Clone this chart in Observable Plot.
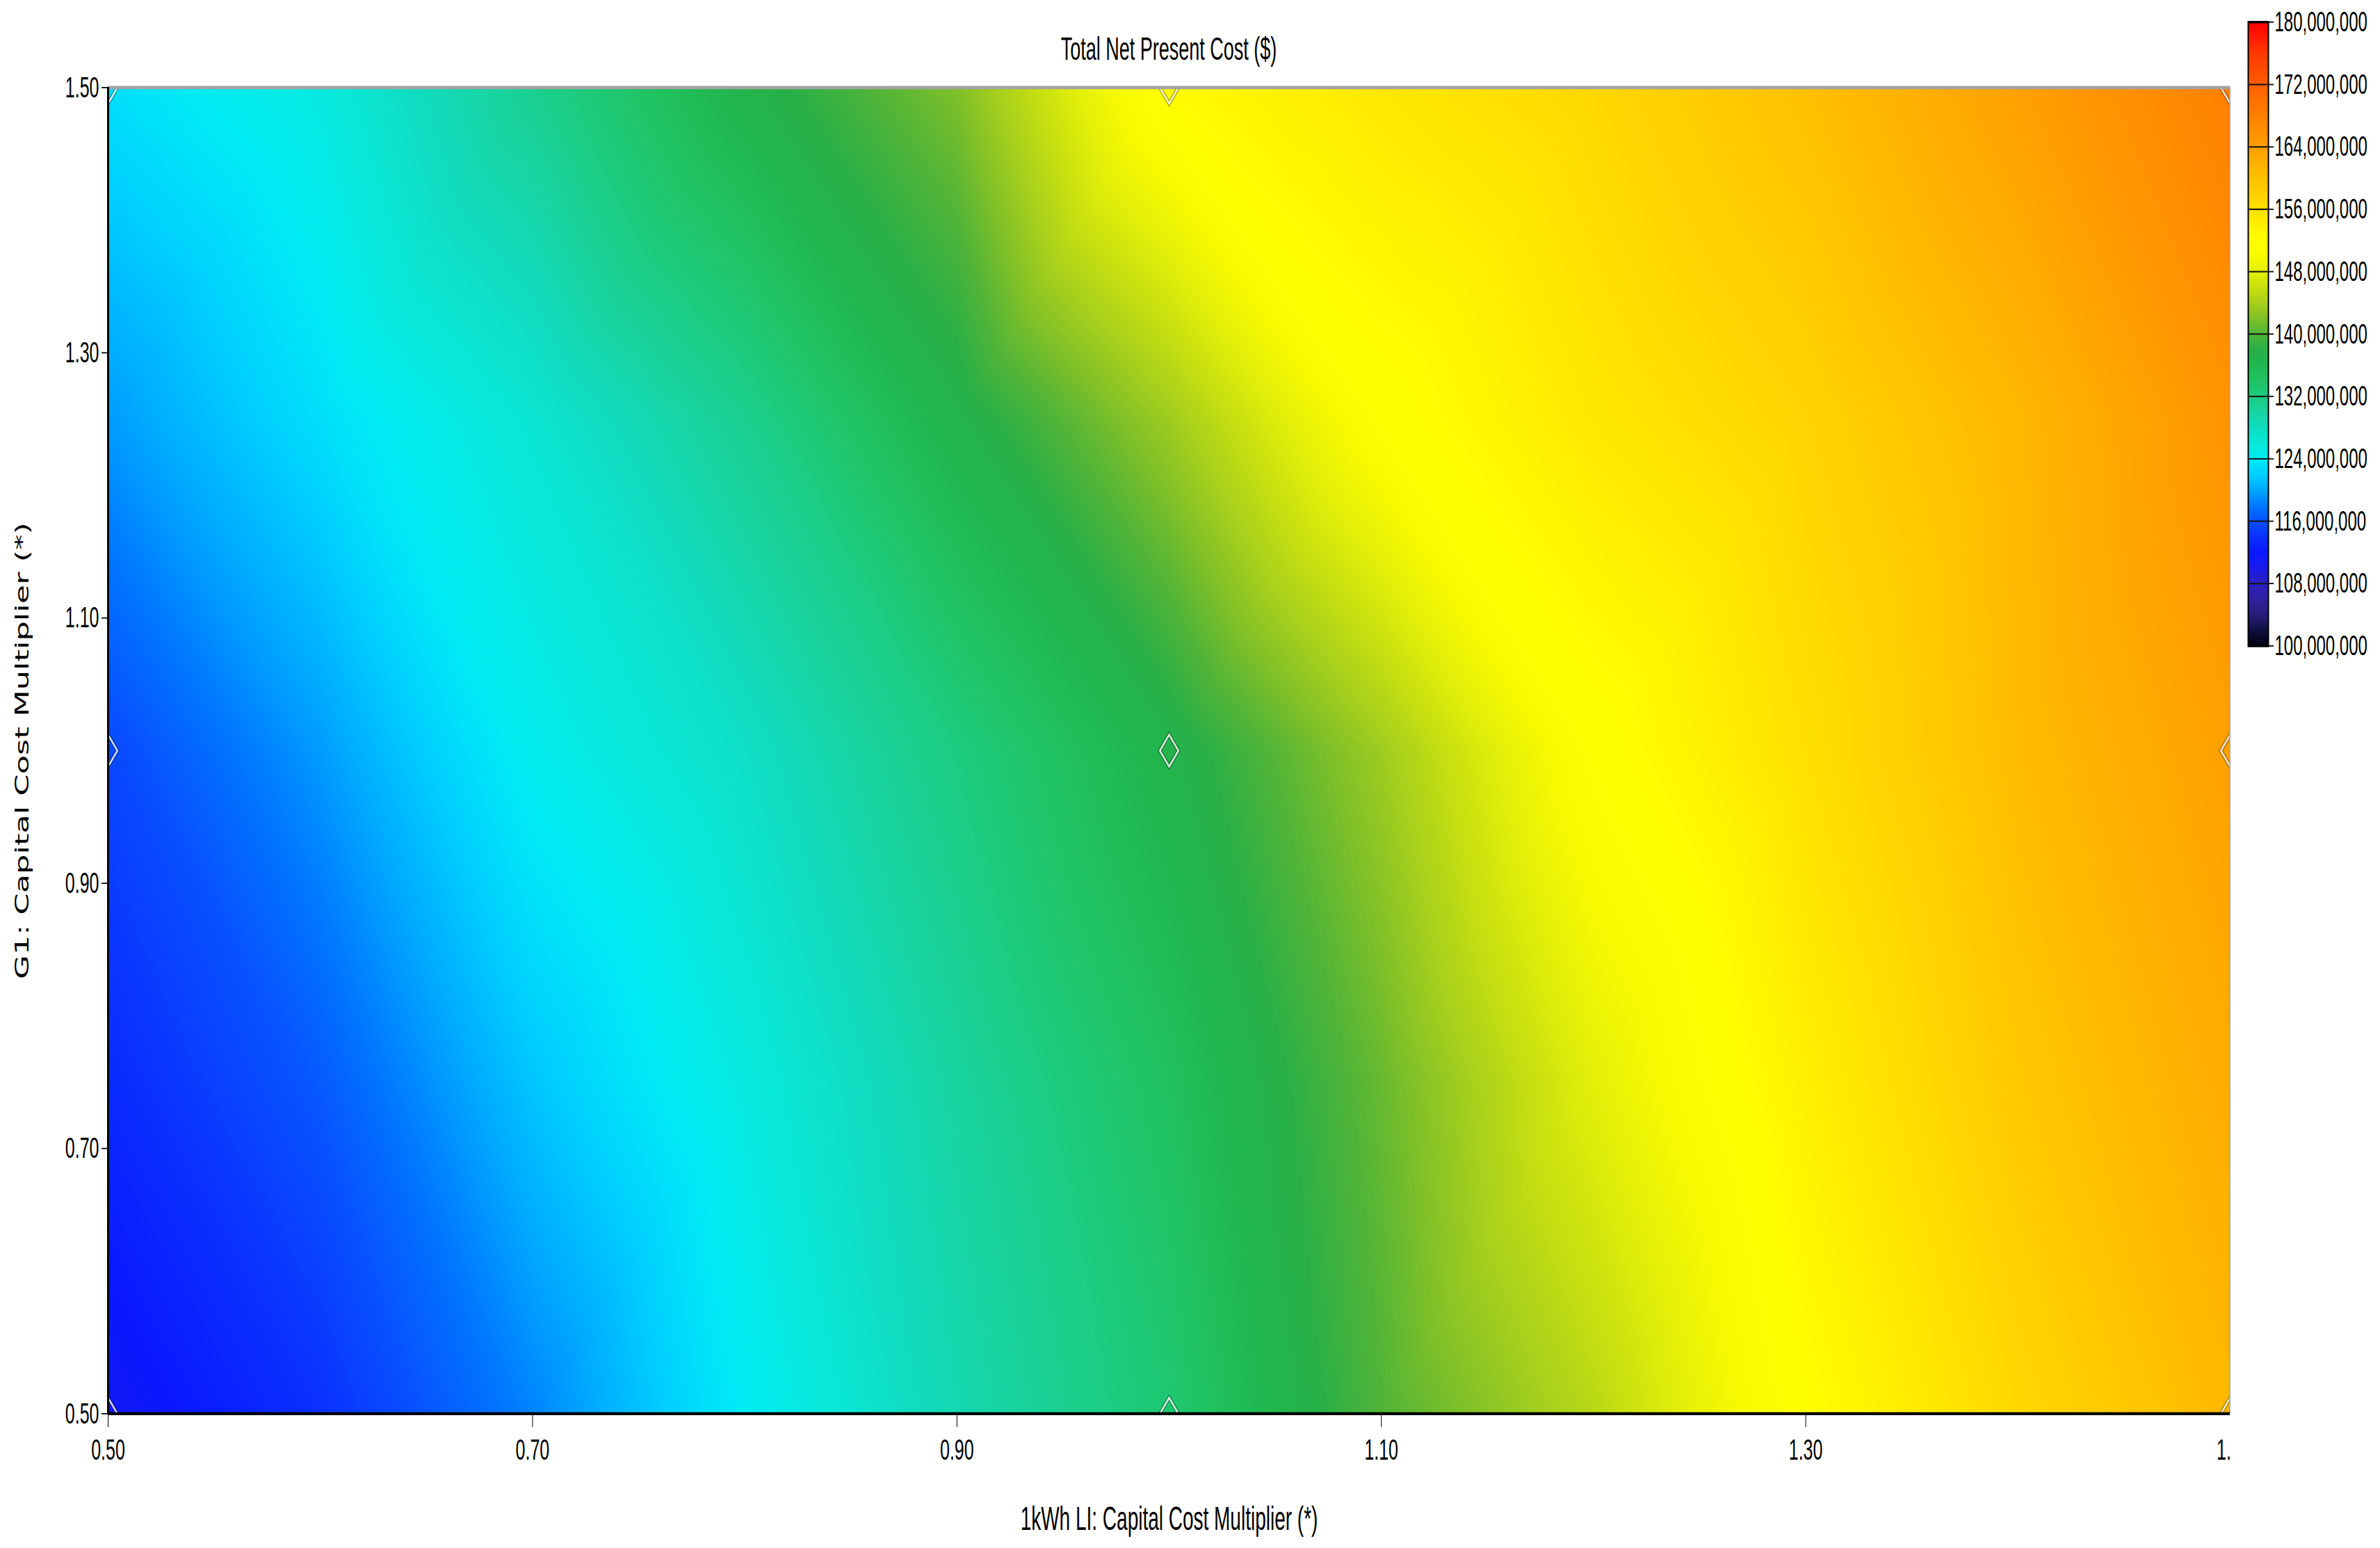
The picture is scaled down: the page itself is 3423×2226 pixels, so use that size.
<!DOCTYPE html>
<html><head><meta charset="utf-8">
<script src="https://cdn.jsdelivr.net/npm/d3@7"></script>
<script src="https://cdn.jsdelivr.net/npm/@observablehq/plot@0.6"></script>
<style>
html{margin:0;padding:0;background:#fff;}
body{margin:0;padding:0;background:#fff;width:3423px;height:2226px;overflow:hidden;}
#stage{position:relative;width:3423px;height:1294px;transform:scaleY(1.7202);transform-origin:0 0;}
#title{position:absolute;left:155px;width:3052px;top:28px;text-align:center;font:27px/27px "Liberation Sans",sans-serif;color:#000;white-space:nowrap;}
#main{position:absolute;left:0;top:0;}
#legend{position:absolute;left:3210px;top:0;}
#main g[aria-label="x-axis label"]{font-size:28px;}
#main g[aria-label="y-axis label"]{font-family:"DejaVu Sans",sans-serif;font-size:26px;}
</style></head>
<body>
<div id="stage"><div id="main"></div><div id="legend"></div><div id="title">Total Net Present Cost ($)</div></div>
<script>
// ---- data (Total Net Present Cost, millions of $) ----
const xValues = [0.5, 0.6, 0.7, 0.8, 0.9, 1.0, 1.1, 1.2, 1.3, 1.4, 1.5];   // 1kWh LI capital cost multiplier
const yValues = [0.5, 0.75, 1.0, 1.25, 1.5];                                 // G1 capital cost multiplier
const npcAtY050 = [111, 114, 118.5, 124, 129, 133, 140, 145, 152, 157, 161];
const npcAtY075 = [113.5, 116.5, 121.5, 125.5, 130, 134.5, 141, 148, 154, 159, 162.5];
const npcAtY100 = [115.5, 119.5, 124.5, 127.5, 132, 137, 143.5, 151.5, 156, 160.5, 164];
const npcAtY125 = [119.5, 123, 126.5, 131, 137, 143.5, 151.5, 155, 157.5, 161, 165.5];
const npcAtY150 = [123, 125.5, 131, 137, 142, 152.5, 155, 157, 160, 164, 168];
const npcRows = [npcAtY050, npcAtY075, npcAtY100, npcAtY125, npcAtY150];

const caseX = [0.5, 1.0, 1.5];   // simulated sensitivity cases
const caseY = [0.5, 1.0, 1.5];

const xTicks = [0.5, 0.7, 0.9, 1.1, 1.3];
const xTickCut = [1.5];          // right-most label, shown truncated as "1." in the source
const yTicks = [0.5, 0.7, 0.9, 1.1, 1.3, 1.5];
const legendTicks = [100, 108, 116, 124, 132, 140, 148, 156, 164, 172, 180];

const colorStops = [100,102,104,106,108,110,112,114,116,118,120,122,124,126,128,130,132,134,136,138,140,142,144,146,148,150,152,154,156,158,160,162,164,166,168,170,172,176,180];
const colorRamp  = ["#000010","#101040","#281e78","#3020a0","#2a20c0","#1a1ae8","#0a18ff","#0a30ff","#0850ff","#0078ff","#00a8ff","#00d0ff","#00ecf4","#08e8d8","#10dcc0","#18d4a0","#1ccc80","#20c464","#20b850","#28b048","#50b438","#80c028","#a8d01c","#c8e010","#e4f008","#f8fa00","#ffff00","#fff000","#ffe000","#ffd000","#ffc000","#ffb000","#ffa000","#ff9000","#ff8000","#ff7000","#ff6000","#ff3800","#ff0000"];

const xLabel = "1kWh LI: Capital Cost Multiplier (*)";
const yLabel = "G1: Capital Cost Multiplier (*)";

// ---- build tables ----
const table = [];
npcRows.forEach((row, j) => row.forEach((v, i) => table.push({x: xValues[i], y: yValues[j], npc: v})));
const cases = [];
caseY.forEach(y => caseX.forEach(x => cases.push({x, y})));

const colorScale = {type: "linear", domain: colorStops, range: colorRamp, interpolate: "rgb", clamp: true};
const fmt2 = d => d.toFixed(2);

const main = Plot.plot({
  width: 3208, height: 1294,
  marginLeft: 155, marginRight: 1, marginTop: 72.7, marginBottom: 112.7,
  style: {fontFamily: "Liberation Sans", fontSize: "25px", color: "#000", background: "transparent", overflow: "hidden"},
  x: {domain: [0.5, 1.5]},
  y: {domain: [0.5, 1.5]},
  color: colorScale,
  marks: [
    Plot.raster(table, {x: "x", y: "y", fill: "npc", interpolate: "barycentric", pixelSize: 1}),
    Plot.dot(cases, {x: "x", y: "y", symbol: "diamond2", r: 12, fill: "none", stroke: "rgba(0,0,0,0.3)", strokeWidth: 4.5, clip: "frame"}),
    Plot.dot(cases, {x: "x", y: "y", symbol: "diamond2", r: 12, fill: "none", stroke: "white", strokeOpacity: 0.85, strokeWidth: 2, clip: "frame"}),
    Plot.ruleY([1.5], {stroke: "#a4a4a4", strokeWidth: 2.7}),
    Plot.ruleX([1.5], {stroke: "#a8a8a8", strokeWidth: 2.5}),
    Plot.ruleX([0.5], {stroke: "#000", strokeWidth: 3}),
    Plot.ruleY([0.5], {stroke: "#000", strokeWidth: 2.5}),
    Plot.axisX({ticks: xTicks, tickFormat: fmt2, tickSize: 11.6, tickPadding: 9, label: xLabel, labelAnchor: "center", labelArrow: "none", labelOffset: 97}),
    Plot.axisX({ticks: xTickCut, tickFormat: () => "1.", tickSize: 0, tickPadding: 20.6, dx: -9, label: null}),
    Plot.axisY({ticks: yTicks, tickFormat: fmt2, tickSize: 9, tickPadding: 4, label: yLabel, labelAnchor: "center", labelArrow: "none", labelOffset: 133})
  ]
});
document.getElementById("main").appendChild(main);

const legend = Plot.plot({
  width: 213, height: 560,
  marginLeft: 23, marginRight: 161, marginTop: 18, marginBottom: 20.5,
  style: {fontFamily: "Liberation Sans", fontSize: "24px", color: "#000", background: "transparent"},
  x: {domain: [0, 1], axis: null},
  y: {domain: [100, 180], axis: null},
  color: colorScale,
  marks: [
    Plot.raster({fill: (x, y) => y, x1: 0, x2: 1, y1: 100, y2: 180, pixelSize: 1}),
    Plot.ruleY(legendTicks, {stroke: "#141414", strokeWidth: 1.2}),
    Plot.frame({stroke: "#000", strokeWidth: 2}),
    Plot.axisY({anchor: "right", ticks: legendTicks, tickFormat: d => d3.format(",")(d * 1e6), tickSize: 7, tickPadding: 2, label: null})
  ]
});
document.getElementById("legend").appendChild(legend);
</script>
</body></html>
